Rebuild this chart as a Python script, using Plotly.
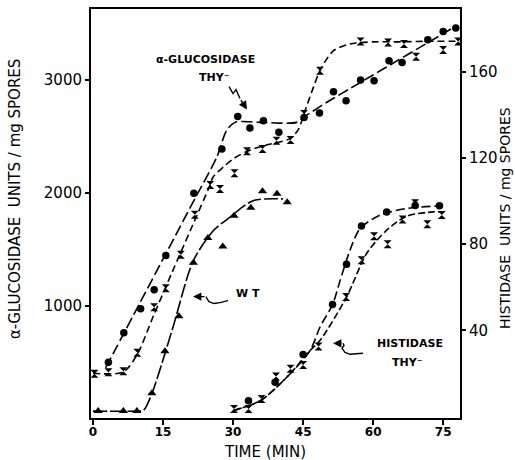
import plotly.graph_objects as go

# ---------------- data (time in min) ----------------
# alpha-glucosidase, THY- (filled circles), units / mg spores (left axis)
glu_dot_t = [3.3, 6.6, 10.2, 13.1, 15.6, 21.6, 27.6, 31.0, 33.6, 36.5, 39.8, 45.2,
             48.5, 51.5, 54.2, 57.3, 60.2, 63.4, 66.2, 71.7, 75.0, 77.7]
glu_dot_v = [498, 758, 971, 1139, 1442, 1994, 2387, 2673, 2573, 2637, 2534, 2666,
             2705, 2894, 2814, 2997, 2991, 3168, 3153, 3354, 3427, 3457]
# alpha-glucosidase, second THY- series (x marks)
glu_x_t = [0.3, 3.3, 6.5, 9.5, 13.1, 15.6, 18.8, 21.8, 25.1, 27.2, 30.3, 33.0, 36.3,
           39.3, 42.3, 45.2, 48.6, 57.3, 63.2, 66.6, 69.2, 75.0, 78.2]
glu_x_v = [395, 410, 419, 581, 985, 1153, 1449, 1803, 2068, 2033, 2171, 2366, 2387,
           2460, 2466, 2696, 3080, 3339, 3330, 3316, 3204, 3263, 3339]
# alpha-glucosidase, WT (triangles)
wt_t = [1.1, 6.5, 9.4, 12.6, 15.4, 18.4, 21.5, 24.6, 27.8, 30.2, 33.8, 36.3, 39.4, 41.6]
wt_v = [65, 65, 65, 224, 596, 905, 1378, 1599, 1522, 1796, 1865, 2012, 1990, 1914]
# histidase, THY- (circles and x marks), units / mg spores (right axis)
his_dot_t = [33.3, 39.0, 45.0, 51.3, 54.3, 57.5, 62.9, 69.0, 74.2]
his_dot_v = [7.4, 16.0, 28.8, 52.0, 70.7, 88.5, 95.0, 98.0, 97.8]
his_x_t = [30.2, 33.3, 36.1, 39.2, 42.3, 45.0, 48.3, 54.2, 57.5, 60.2, 63.1, 66.3,
           69.0, 71.6, 74.7]
his_x_v = [3.6, 3.6, 8.2, 18.6, 22.2, 24.0, 32.6, 55.5, 72.6, 83.7, 80.0, 91.5,
           99.0, 89.3, 93.5]

# hand-drawn fitted curves
glu_dot_fit_t = [2.7, 10, 16, 22, 26.5, 28.6, 30.4, 36, 43.6, 45.4, 50, 55, 60, 65, 70, 75, 78]
glu_dot_fit_v = [448, 1020, 1490, 1961, 2313, 2549, 2622, 2622, 2622, 2675, 2798, 2920,
                 3042, 3164, 3286, 3408, 3481]
glu_x_fit_t = [0, 6.5, 9.5, 13, 17, 21, 25, 25.7, 28, 30, 33, 37, 42.2, 44, 45.2, 47.2,
               48.6, 51.5, 55, 60, 66, 72, 78.6]
glu_x_fit_v = [400, 412, 570, 914, 1300, 1680, 2060, 2136, 2230, 2298, 2366, 2420, 2478,
               2560, 2700, 2932, 3080, 3257, 3316, 3335, 3335, 3340, 3340]
wt_fit_t = [0, 9.5, 10.8, 12.6, 17, 21.5, 25.8, 29.3, 34.3, 40.7]
wt_fit_v = [65, 65, 71, 219, 790, 1398, 1664, 1781, 1929, 1944]
his_dot_fit_t = [30.0, 35.8, 41.5, 46.5, 48.6, 51.3, 52.9, 55.0, 57.2, 61.5, 67.2, 74.5]
his_dot_fit_v = [2.8, 7.4, 18.3, 30.7, 41.5, 52.0, 63.0, 77.0, 87.3, 93.5, 96.6, 97.8]
his_x_fit_t = [30.0, 35.8, 41.5, 46.5, 48.6, 54.3, 58.6, 62.9, 67.2, 72.9, 75.0]
his_x_fit_v = [2.8, 7.4, 18.3, 30.7, 35.3, 55.5, 75.7, 86.5, 93.0, 95.0, 95.0]

x_ticks = [0, 15, 30, 45, 60, 75]
left_ticks = [1000, 2000, 3000]
right_ticks = [40, 80, 120, 160]

FONT = "DejaVu Sans"
BLK = "black"

fig = go.Figure()


def curve(t, v, dash, yaxis="y"):
    fig.add_trace(go.Scatter(x=t, y=v, mode="lines", yaxis=yaxis, hoverinfo="skip",
                             line=dict(color=BLK, width=1.6, dash=dash,
                                       shape="spline", smoothing=0.8)))


def pts(t, v, symbol, size, yaxis="y"):
    fig.add_trace(go.Scatter(x=t, y=v, mode="markers", yaxis=yaxis,
                             marker=dict(symbol=symbol, size=size, color=BLK,
                                         line=dict(width=0))))


curve(glu_dot_fit_t, glu_dot_fit_v, "11px,4px")
curve(glu_x_fit_t, glu_x_fit_v, "7px,4px")
curve(wt_fit_t, wt_fit_v, "14px,3px")
curve(his_dot_fit_t, his_dot_fit_v, "9px,4px", "y2")
curve(his_x_fit_t, his_x_fit_v, "7px,3px", "y2")

pts(glu_dot_t, glu_dot_v, "circle", 7.5)
pts(glu_x_t, glu_x_v, "hourglass", 8)
pts(wt_t, wt_v, "triangle-up", 8)
pts(his_dot_t, his_dot_v, "circle", 7.5, "y2")
pts(his_x_t, his_x_v, "hourglass", 8, "y2")

# pixel -> paper helpers for labels / arrows
L, R, T, B = 91, 460, 7, 418


def px(x):
    return (x - L) / (R - L)


def py(y):
    return (B - y) / (B - T)


def text(x, y, s, size, bold=False, angle=0):
    fig.add_annotation(x=px(x), y=py(y), xref="paper", yref="paper", text=s,
                       showarrow=False, textangle=angle, xanchor="center", yanchor="middle",
                       font=dict(family=FONT, size=size, color=BLK,
                                 weight="bold" if bold else "normal"))


def arrow(tip, tail):
    fig.add_annotation(x=px(tip[0]), y=py(tip[1]), xref="paper", yref="paper", text="",
                       showarrow=True, ax=tail[0] - tip[0], ay=tail[1] - tip[1],
                       arrowhead=2, arrowsize=1.2, arrowwidth=1.4, arrowcolor=BLK,
                       standoff=0, startstandoff=0)


def squiggle(points):
    d = "M " + " L ".join(f"{px(a):.4f},{py(b):.4f}" for a, b in points)
    fig.add_shape(type="path", path=d, xref="paper", yref="paper",
                  line=dict(color=BLK, width=1.4))


NB = "\u00a0"
text(15, 198, f"α-GLUCOSIDASE{NB}{NB}UNITS{NB}/{NB}mg{NB}SPORES", 15, angle=-90)
text(505, 217, f"HISTIDASE{NB}{NB}UNITS{NB}/{NB}mg{NB}SPORES", 14, angle=-90)
text(265, 452, "TIME (MIN)", 15)

text(205, 58, "α-GLUCOSIDASE", 11, bold=True)
text(214, 76, "THY⁻", 11, bold=True)
text(248, 293, f"W{NB}T", 11, bold=True)
text(410, 343, "HISTIDASE", 11, bold=True)
text(407, 362, "THY⁻", 11, bold=True)

squiggle([(229, 85), (233, 92), (236, 88), (240, 97)])
arrow((247, 108), (240, 97))
squiggle([(228, 300), (220, 302), (214, 303), (209, 301), (207, 298), (206, 296)])
arrow((193, 296), (206, 296))
squiggle([(363, 353), (350, 354), (345, 352), (342, 348), (344, 345), (343, 343)])
arrow((333, 343), (343, 343))

fig.update_layout(
    width=515, height=460, margin=dict(l=L, r=515 - R, t=T, b=460 - B),
    paper_bgcolor="white", plot_bgcolor="white", showlegend=False,
    font=dict(family=FONT, color=BLK),
    xaxis=dict(range=[-0.43, 78.6], tickvals=x_ticks, ticks="outside", ticklen=5,
               tickwidth=1.5, tickcolor=BLK, showline=True, linewidth=2, linecolor=BLK,
               mirror=True, showgrid=False, zeroline=False, ticklabelstandoff=-3,
               tickfont=dict(size=12, weight="bold")),
    yaxis=dict(range=[4, 3626], tickvals=left_ticks, ticks="outside", ticklen=4,
               tickwidth=1.5, tickcolor=BLK, showline=True, linewidth=2, linecolor=BLK,
               showgrid=False, zeroline=False, tickfont=dict(size=15)),
    yaxis2=dict(range=[-0.6, 189.1], tickvals=right_ticks, overlaying="y", side="right",
                ticks="outside", ticklen=4, tickwidth=1.5, tickcolor=BLK, showline=True,
                linewidth=2, linecolor=BLK, showgrid=False, zeroline=False,
                tickfont=dict(size=15)),
)

fig.write_html("out.html")
